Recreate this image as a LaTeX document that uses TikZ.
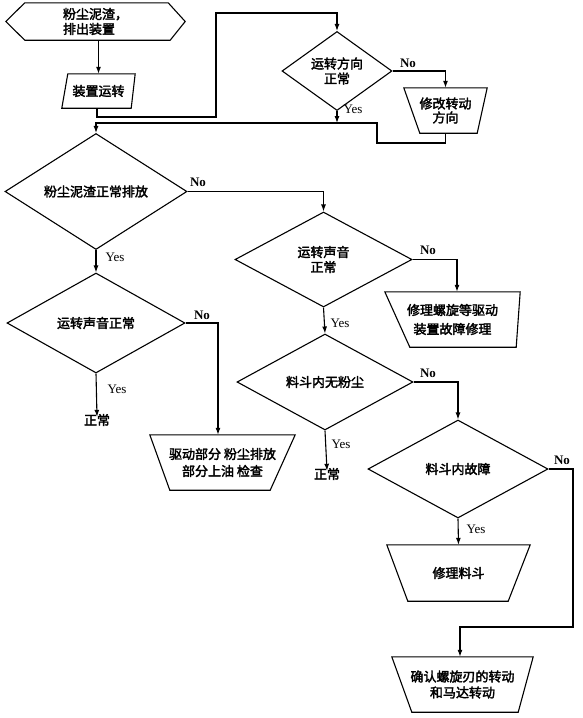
\documentclass[tikz,border=0pt]{standalone}
\usepackage{fontspec}
\setmainfont{Liberation Serif}
\newfontfamily\cjk[FakeBold=2.5]{Noto Sans CJK SC}
\usetikzlibrary{shapes.geometric,arrows.meta}
\newcommand{\cjkt}{\cjk\fontsize{13}{15}\selectfont}
\tikzset{
  ln/.style={line width=1.1pt},
  arr/.style={ln,-{Latex[length=7pt,width=5pt]}},
  dia/.style={diamond,draw,ln,inner sep=0pt,font=\cjkt,align=center},
  box/.style={rectangle,inner sep=0pt,font=\cjkt,align=center},
  yes/.style={inner sep=0pt,font=\fontsize{13}{13}\selectfont},
  no/.style={inner sep=0pt,font=\fontsize{13}{13}\selectfont\bfseries},
  okt/.style={inner sep=0pt,font=\cjkt},
}
\begin{document}
\begin{tikzpicture}[x=1pt,y=-1pt]
\useasboundingbox (0,0) rectangle (583,718);
% start hexagon
\node[box,align=left,minimum width=179pt,minimum height=37pt] (hex) at (95.5,21.5) {粉尘泥渣，\\排出装置};
\draw[ln] (hex.west) -- ([xshift=19pt]hex.north west) -- ([xshift=-17pt]hex.north east) -- (hex.east)
  -- ([xshift=-15pt]hex.south east) -- ([xshift=19pt]hex.south west) -- cycle;
% parallelogram
\node[box,minimum width=73pt,minimum height=34pt] (par) at (98.5,91) {装置运转};
\draw[ln] ([xshift=6pt]par.north west) -- (par.north east) -- ([xshift=-4pt]par.south east) -- (par.south west) -- cycle;
% diamonds
\node[dia,minimum width=110pt,minimum height=58pt] (d1) at (337,71) {运转方向\\正常};
\node[dia,minimum width=182pt,minimum height=97pt] (d2) at (96,191.5) {粉尘泥渣正常排放};
\node[dia,minimum width=177pt,minimum height=95pt] (d3) at (323.5,259.5) {运转声音\\正常};
\node[dia,minimum width=178pt,minimum height=100pt] (d6) at (96,323) {运转声音正常};
\node[dia,minimum width=176pt,minimum height=96pt] (d4) at (325,382) {料斗内无粉尘};
\node[dia,minimum width=180pt,minimum height=98pt] (d5) at (458,469) {料斗内故障};
% trapezoids
\node[box,minimum width=83pt,minimum height=45pt] (t1) at (445.5,110.5) {修改转动\\[-1pt]方向};
\draw[ln] (t1.north west) -- (t1.north east) -- ([xshift=-10pt]t1.south east) -- ([xshift=16pt]t1.south west) -- cycle;
\node[box,minimum width=135pt,minimum height=55pt] (t2) at (452.5,319.5) {修理螺旋等驱动\\[4pt]装置故障修理};
\draw[ln] (t2.north west) -- (t2.north east) -- ([xshift=-4pt]t2.south east) -- ([xshift=25pt]t2.south west) -- cycle;
\node[box,minimum width=145pt,minimum height=55pt] (t5) at (222.5,462.5) {驱动部分 粉尘排放\\[2pt]部分上油 检查};
\draw[ln] (t5.north west) -- (t5.north east) -- ([xshift=-25pt]t5.south east) -- ([xshift=20pt]t5.south west) -- cycle;
\node[box,minimum width=143pt,minimum height=56pt] (t3) at (458.5,573) {修理料斗};
\draw[ln] (t3.north west) -- (t3.north east) -- ([xshift=-22pt]t3.south east) -- ([xshift=21pt]t3.south west) -- cycle;
\node[box,minimum width=141pt,minimum height=55pt] (t4) at (462.5,684.5) {确认螺旋刃的转动\\[1pt]和马达转动};
\draw[ln] (t4.north west) -- (t4.north east) -- ([xshift=-15pt]t4.south east) -- ([xshift=20pt]t4.south west) -- cycle;
% normal end texts
\node[okt] (ok1) at (97,420) {正常};
\node[okt] (ok2) at (327,474) {正常};
% connectors
\draw[arr] (hex.south -| par.north) -- (par.north);
\coordinate (c1) at (97,117);
\coordinate (c2) at (216,13);
\draw[arr] (par.south -| c1) -- (c1) -| (c2) -| (d1.north);
\coordinate (j1) at (337,123);
\draw[arr] (d1.south) -- (j1);
\draw[arr] (d1.east) -| (t1.north);
\coordinate (c3) at (377,143);
\draw[arr] (t1.south) |- (c3) |- (j1) -| (d2.north);
\draw[arr] (d2.east) -| (d3.north);
\draw[arr] (d2.south) -- (d6.north);
\draw[arr] (d3.south) -- (d4.north);
\draw[arr] (d3.east) -| ([xshift=4.5pt]t2.north);
\draw[arr] (d6.south) -- ([yshift=-3pt]ok1.north);
\draw[arr] (d6.east) -| ([xshift=-4.5pt]t5.north);
\draw[arr] (d4.south) -- ([yshift=-3pt]ok2.north);
\draw[arr] (d4.east) -| (d5.north);
\draw[arr] (d5.south) -- (t3.north);
\coordinate (c4) at (573,627);
\draw[arr] (d5.east) -| (c4) -| ([xshift=-2.5pt]t4.north);
% labels
\node[no] (n1) at (408,63) {No};
\node[yes] (y1) at (353,109) {Yes};
\node[no] (n2) at (198,182) {No};
\node[yes] (y2) at (115,257) {Yes};
\node[no] (n3) at (428,250) {No};
\node[yes] (y3) at (340,323) {Yes};
\node[no] (n4) at (202,315) {No};
\node[yes] (y4) at (117,389) {Yes};
\node[no] (n5) at (428,373) {No};
\node[yes] (y5) at (341,444) {Yes};
\node[no] (n6) at (562,460) {No};
\node[yes] (y6) at (476,529) {Yes};
\end{tikzpicture}
\end{document}
